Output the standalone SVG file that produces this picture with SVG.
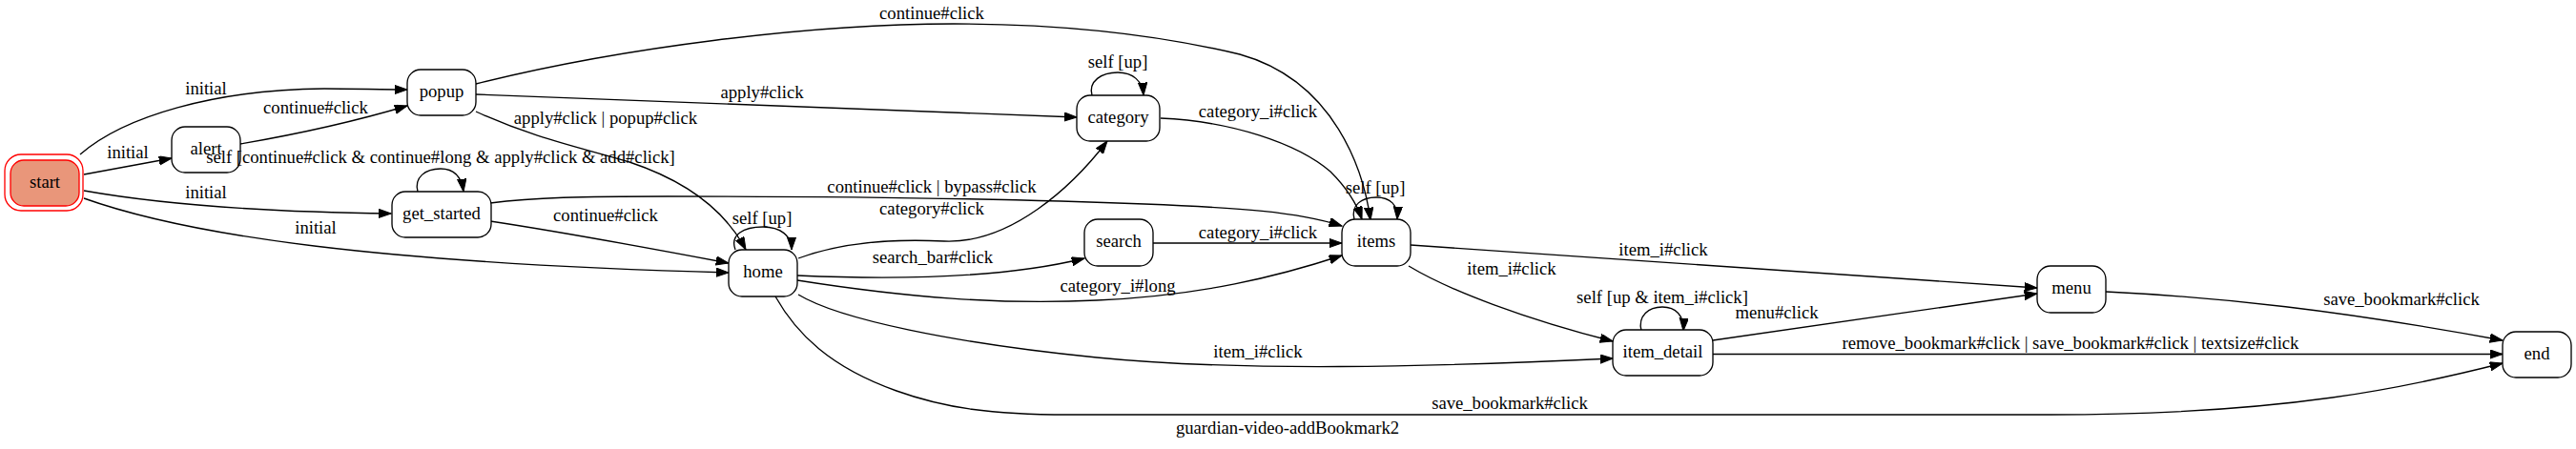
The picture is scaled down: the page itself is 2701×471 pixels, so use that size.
<svg xmlns="http://www.w3.org/2000/svg" width="2701" height="471" viewBox="0 0 2701 471">
<defs>
<style>
text{font-family:"Liberation Serif","Times New Roman",Times,serif;font-size:18.67px;fill:#000;text-anchor:middle}
.n{fill:#fff;stroke:#000;stroke-width:1.33}
.e{fill:none;stroke:#000;stroke-width:1.33;marker-end:url(#ah)}
</style>
<marker id="ah" viewBox="0 0 14 10" refX="13.3" refY="4.67" markerUnits="userSpaceOnUse" markerWidth="14" markerHeight="10" orient="auto">
<path d="M0,0 L13.3,4.67 L0,9.33 Z" fill="#000" stroke="#000" stroke-width="1"/>
</marker>
</defs>
<rect width="2701" height="471" fill="#fff"/>
<g id="connectors">
<path class="e" d="M84,162 C130,122 225,94 340,93 C370,93 400,94 427,94"/>
<path class="e" d="M252,151 C310,141 370,128 427,111"/>
<path class="e" d="M88,183 L180,166"/>
<path class="e" d="M88,200 C150,211 250,222 410,224"/>
<path class="e" d="M88,208 C200,248 400,276 764,286"/>
<path class="e" d="M499,88 C650,50 850,25 1000,25 C1150,25 1250,45 1300,57 C1400,85 1430,180 1437,231"/>
<path class="e" d="M499,99 L1129,123"/>
<path class="e" d="M499,117 C560,145 610,155 660,170 C720,190 760,220 782,262"/>
<path class="e" d="M438,201 C434,186 446,177 462,177 C476,177 484,186 486,201"/>
<path class="e" d="M514,213 C560,207 610,206 700,206 C850,206 1050,208 1200,214 C1300,218 1360,222 1407,237"/>
<path class="e" d="M514,232 C600,245 690,262 764,276"/>
<path class="e" d="M771,262 C765,246 780,238 800,238 C818,238 830,247 830,262"/>
<path class="e" d="M837,271 C880,255 930,250 990,253 C1060,256 1125,195 1161,148"/>
<path class="e" d="M836,289 C950,294 1060,290 1137,271"/>
<path class="e" d="M836,294 C950,312 1050,320 1150,315 C1260,310 1340,290 1407,268"/>
<path class="e" d="M837,309 C880,335 1000,360 1150,375 C1300,390 1500,385 1691,376"/>
<path class="e" d="M813,311 C835,350 870,385 940,410 C990,428 1040,435 1120,435 L2150,435 C2400,435 2530,405 2624,381"/>
<path class="e" d="M1145,100 C1141,85 1155,76 1172,76 C1188,76 1198,85 1199,100"/>
<path class="e" d="M1217,124 C1290,127 1360,150 1395,180 C1412,197 1422,212 1428,230"/>
<path class="e" d="M1209,255 L1407,255"/>
<path class="e" d="M1420,230 C1416,215 1428,207 1443,207 C1458,207 1466,215 1465,230"/>
<path class="e" d="M1479,257 L2136,302"/>
<path class="e" d="M1477,279 C1520,305 1600,335 1691,358"/>
<path class="e" d="M1721,347 C1717,331 1729,322 1743,322 C1757,322 1766,331 1765,347"/>
<path class="e" d="M1796,357 L2136,308"/>
<path class="e" d="M1796,371.5 L2624,371.5"/>
<path class="e" d="M2208,306 C2330,312 2450,325 2624,357"/>
</g>
<g id="start">
<rect x="5" y="162" width="82" height="59" rx="17" fill="#fff" stroke="#ff0000" stroke-width="1.33"/>
<rect x="11" y="168" width="72" height="48" rx="14" fill="#e9967a" stroke="#ff0000" stroke-width="1.33"/>
<text x="47" y="197">start</text>
</g>
<g id="alert"><rect class="n" x="180" y="133" width="72" height="48" rx="14"/><text x="216" y="162">alert</text></g>
<g id="popup"><rect class="n" x="427" y="73" width="72" height="48" rx="14"/><text x="463" y="102">popup</text></g>
<g id="get_started"><rect class="n" x="411" y="201" width="104" height="48" rx="14"/><text x="463" y="230">get_started</text></g>
<g id="home"><rect class="n" x="764" y="262" width="72" height="49" rx="14"/><text x="800" y="291">home</text></g>
<g id="category"><rect class="n" x="1129" y="100" width="87" height="48" rx="14"/><text x="1172.5" y="129">category</text></g>
<g id="search"><rect class="n" x="1137" y="230" width="72" height="49" rx="14"/><text x="1173" y="259">search</text></g>
<g id="items"><rect class="n" x="1407" y="230" width="72" height="49" rx="14"/><text x="1443" y="259">items</text></g>
<g id="item_detail"><rect class="n" x="1691" y="346" width="105" height="48" rx="14"/><text x="1743.5" y="375">item_detail</text></g>
<g id="menu"><rect class="n" x="2136" y="279" width="72" height="49" rx="14"/><text x="2172" y="308">menu</text></g>
<g id="end"><rect class="n" x="2624" y="348" width="72" height="48" rx="14"/><text x="2660" y="377">end</text></g>
<g id="edge-labels">
<text x="216" y="99">initial</text>
<text x="331" y="119">continue#click</text>
<text x="134" y="166">initial</text>
<text x="462" y="171">self [continue#click &amp; continue#long &amp; apply#click &amp; add#click]</text>
<text x="216" y="208">initial</text>
<text x="331" y="245">initial</text>
<text x="799" y="103">apply#click</text>
<text x="635" y="130">apply#click | popup#click</text>
<text x="977" y="20">continue#click</text>
<text x="977" y="202">continue#click | bypass#click</text>
<text x="635" y="232">continue#click</text>
<text x="799" y="235">self [up]</text>
<text x="977" y="225">category#click</text>
<text x="978" y="276">search_bar#click</text>
<text x="1172" y="306">category_i#long</text>
<text x="1172" y="71">self [up]</text>
<text x="1319" y="123">category_i#click</text>
<text x="1442" y="203">self [up]</text>
<text x="1319" y="250">category_i#click</text>
<text x="1744" y="268">item_i#click</text>
<text x="1585" y="288">item_i#click</text>
<text x="1743" y="318">self [up &amp; item_i#click]</text>
<text x="1863" y="334">menu#click</text>
<text x="2171" y="366">remove_bookmark#click | save_bookmark#click | textsize#click</text>
<text x="2518" y="320">save_bookmark#click</text>
<text x="1319" y="375">item_i#click</text>
<text x="1583" y="429">save_bookmark#click</text>
</g>
<g id="title"><text x="1350" y="455">guardian-video-addBookmark2</text></g>
</svg>
